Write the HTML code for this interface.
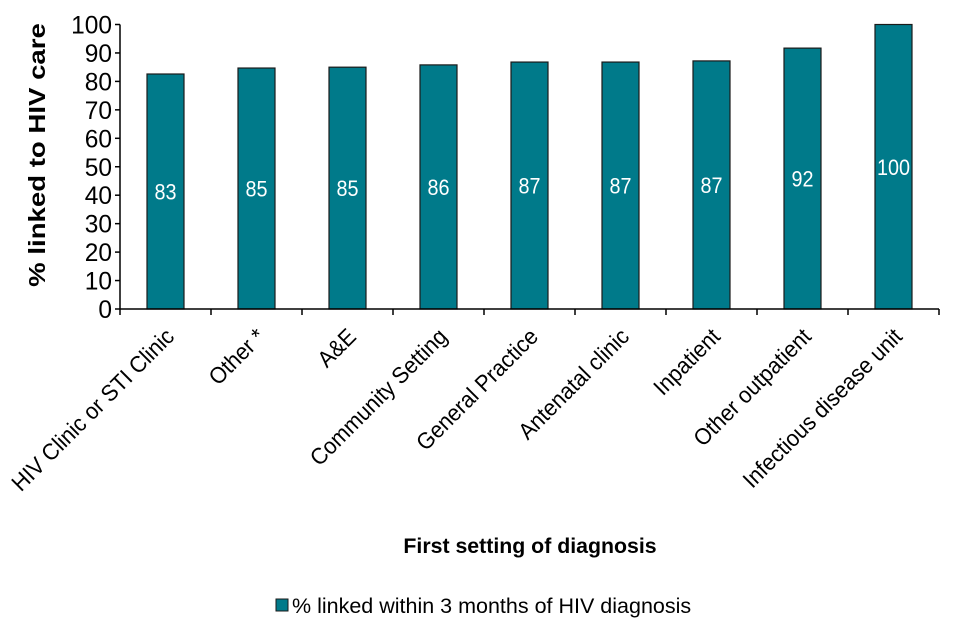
<!DOCTYPE html>
<html><head><meta charset="utf-8"><style>
html,body{margin:0;padding:0;background:#fff;width:960px;height:640px;overflow:hidden}
svg text{font-family:"Liberation Sans",Arial,sans-serif}
</style></head><body>
<svg id="chart" width="960" height="640"></svg>
<script>
const categories=["HIV Clinic or STI Clinic","Other *","A&E","Community Setting","General Practice","Antenatal clinic","Inpatient","Other outpatient","Infectious disease unit"];
const values=[82.6,84.7,85.0,85.8,86.8,86.8,87.2,91.7,100];
const valueLabels=["83","85","85","86","87","87","87","92","100"];
const yTicks=[0,10,20,30,40,50,60,70,80,90,100];
const NS="http://www.w3.org/2000/svg";
const svg=document.getElementById('chart');
const x0=120,step=91,y0=309,yTop=24.5;
const yScale=v=>y0-(v/100)*(y0-yTop);
const xCenter=i=>x0+step*i+step/2;
function mk(tag,attrs,parent){const e=document.createElementNS(NS,tag);for(const k in attrs)e.setAttribute(k,attrs[k]);(parent||svg).appendChild(e);return e;}
// bars
categories.forEach((c,i)=>{
  const top=yScale(values[i]);
  const r=mk('rect',{x:xCenter(i)-18.5,y:top,width:37,height:y0-top,fill:'#007A8A',stroke:'#1a1a1a','stroke-width':1.2});
  
  
  const t=mk('text',{transform:`translate(${xCenter(i)},${yScale(values[i]/2)+8}) scale(0.9,1)`,'text-anchor':'middle','font-size':22,fill:'#fff'});
  t.textContent=valueLabels[i];
  
  
  const g=mk('text',{transform:`translate(${xCenter(i)+10},${338}) rotate(-45) scale(0.94,1)`,'text-anchor':'end','font-size':23,fill:'#000'});
  g.textContent=c;
  
  
});
// axes
const ax=mk('g',{stroke:'#000','stroke-width':1.5});


mk('line',{x1:x0,y1:yTop,x2:x0,y2:y0},ax);
mk('line',{x1:x0,y1:y0,x2:x0+step*categories.length,y2:y0},ax);
yTicks.forEach(v=>{
  mk('line',{x1:x0-5,y1:yScale(v),x2:x0,y2:yScale(v)},ax);
  const t=mk('text',{transform:`translate(112,${yScale(v)+9}) scale(0.98,1)`,'text-anchor':'end','font-size':25,fill:'#000'});
  t.textContent=v;
  
  
});
for(let i=0;i<=categories.length;i++){mk('line',{x1:x0+step*i,y1:y0,x2:x0+step*i,y2:y0+6},ax);}
const yt=mk('text',{transform:'translate(45,155) rotate(-90) scale(1.2,1)','text-anchor':'middle','font-size':23,'font-weight':'bold',fill:'#000'});
yt.textContent='% linked to HIV care';


const xt=mk('text',{transform:'translate(530,553)','text-anchor':'middle','font-size':21.3,'font-weight':'bold',fill:'#000'});
xt.textContent='First setting of diagnosis';


const lg=mk('g',{});


mk('rect',{x:276,y:599,width:12,height:12,fill:'#007A8A',stroke:'#1a1a1a','stroke-width':1},lg);
const lt=mk('text',{transform:'translate(292,613)','font-size':21.5,fill:'#000'},lg);
lt.textContent='% linked within 3 months of HIV diagnosis';
</script>
</body></html>
